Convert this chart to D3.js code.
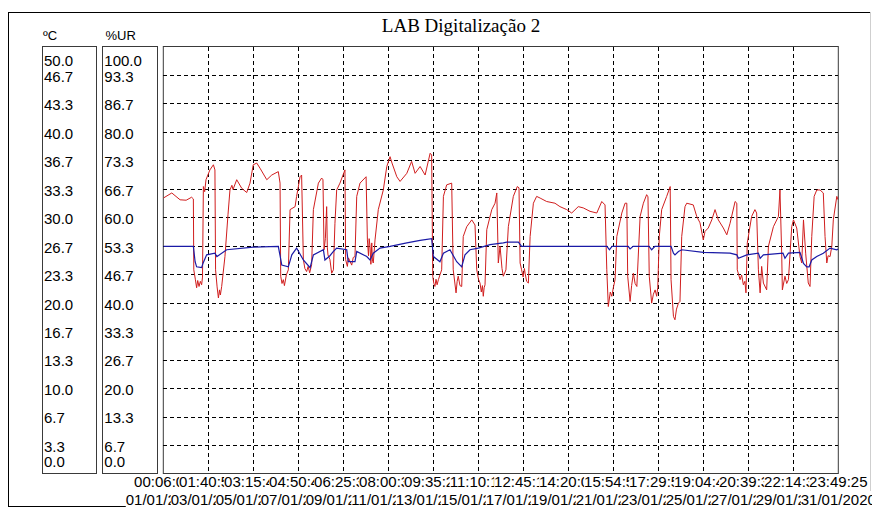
<!DOCTYPE html>
<html><head><meta charset="utf-8">
<script src="https://cdn.jsdelivr.net/npm/d3@7"></script>
<style>body{margin:0;background:#fff}svg{display:block}</style>
</head><body><svg id="c" width="872" height="509"></svg>
<script>
const title = "LAB Digitalização 2";
const tempUnit = "ºC";
const humUnit = "%UR";
const tempTickLabels = ["0.0","3.3","6.7","10.0","13.3","16.7","20.0","23.3","26.7","30.0","33.3","36.7","40.0","43.3","46.7","50.0"];
const humTickLabels = ["0.0","6.7","13.3","20.0","26.7","33.3","40.0","46.7","53.3","60.0","66.7","73.3","80.0","86.7","93.3","100.0"];
const timeLabels = ["00:06:02","01:40:56","03:15:49","04:50:43","06:25:36","08:00:30","09:35:23","11:10:17","12:45:10","14:20:04","15:54:57","17:29:51","19:04:44","20:39:38","22:14:31","23:49:25"];
const dateLabels = ["01/01/2020","03/01/2020","05/01/2020","07/01/2020","09/01/2020","11/01/2020","13/01/2020","15/01/2020","17/01/2020","19/01/2020","21/01/2020","23/01/2020","25/01/2020","27/01/2020","29/01/2020","31/01/2020"];
const spanDays = 30.9885; // time span in days
// relative humidity (%UR): [day offset, value]
const humidity = [[0,64.5],[0.39,65.7],[0.77,64.1],[1.05,64.0],[1.30,64.7],[1.38,64.3],[1.40,47.7],[1.47,45.5],[1.53,43.5],[1.58,45.2],[1.64,43.8],[1.70,45.0],[1.76,44.2],[1.80,46],[1.84,67.2],[1.90,66.0],[1.96,68.8],[2.14,71.1],[2.30,72.3],[2.37,71.1],[2.40,47.7],[2.47,43.7],[2.53,41.1],[2.58,43.0],[2.62,41.8],[2.68,43.8],[2.83,50.8],[2.97,60.6],[3.06,66.4],[3.15,67.5],[3.20,66.5],[3.37,68.8],[3.60,66.8],[3.83,65.8],[3.98,68.0],[4.13,72.3],[4.29,72.7],[4.44,71.5],[4.75,68.8],[4.98,69.9],[5.28,70.7],[5.36,68.0],[5.39,46.2],[5.45,44.5],[5.51,45.4],[5.56,44.0],[5.65,46.5],[5.74,47.7],[5.82,61.8],[6.05,62.5],[6.12,64.9],[6.28,69.5],[6.35,69.9],[6.43,50.1],[6.50,48.0],[6.58,47.3],[6.65,48.5],[6.72,47.0],[6.81,48.9],[6.89,61.8],[7.12,68.0],[7.27,69.2],[7.33,68.8],[7.38,52.4],[7.44,55],[7.50,62.5],[7.53,53],[7.56,51.2],[7.65,50.1],[7.73,46.9],[7.81,47.7],[7.88,58.6],[7.96,66.4],[8.11,68.0],[8.34,71.1],[8.37,50.1],[8.45,48.5],[8.50,50.5],[8.57,49.7],[8.65,48.8],[8.72,50.6],[8.80,50.8],[8.88,64.9],[9.03,68.0],[9.31,69.5],[9.37,54.7],[9.42,51],[9.45,55],[9.49,53.2],[9.53,49],[9.57,54],[9.60,50],[9.64,49.3],[9.72,54.7],[9.87,61.8],[10.10,66.4],[10.26,71.9],[10.41,74.2],[10.50,72.7],[10.72,69.5],[10.87,68.4],[11.18,70.3],[11.40,73.1],[11.56,70.3],[11.79,71.9],[12.02,69.9],[12.25,75.0],[12.32,74.6],[12.37,46.2],[12.42,44.5],[12.47,43.8],[12.52,45.5],[12.57,44.2],[12.63,45.4],[12.70,46.5],[12.78,47.7],[12.86,64.9],[13.01,67.6],[13.24,68.0],[13.31,47.7],[13.44,42.3],[13.49,45],[13.54,46.2],[13.62,44],[13.70,43.8],[13.77,55.5],[13.93,57.8],[14.16,59.4],[14.31,58.2],[14.39,47.7],[14.47,45.5],[14.54,44.6],[14.60,42.5],[14.65,44],[14.69,41.5],[14.73,43.5],[14.77,44.2],[14.85,57.1],[15.08,61.8],[15.23,63.3],[15.31,65.7],[15.38,49.3],[15.46,53.2],[15.55,48],[15.61,46.2],[15.73,47.7],[15.84,57.8],[16.07,64.9],[16.25,67.2],[16.33,66.9],[16.38,49.3],[16.45,47.7],[16.52,46.0],[16.58,48.0],[16.61,46.9],[16.68,45],[16.76,44.6],[16.84,55.5],[16.99,63.3],[17.14,64.9],[17.30,64.5],[17.60,63.7],[17.98,63.3],[18.21,62.5],[18.52,61.8],[18.75,61.0],[19.05,62.5],[19.28,62.2],[19.59,61.4],[19.90,61.0],[20.13,63.7],[20.28,62.9],[20.36,47.7],[20.43,39.1],[20.52,42.5],[20.59,41.5],[20.66,43.5],[20.74,45.4],[20.82,55.5],[21.05,61.0],[21.20,63.3],[21.28,63.3],[21.32,46.2],[21.43,40.3],[21.50,44],[21.58,46.9],[21.66,44.5],[21.74,43.8],[21.89,60.2],[22.04,63.3],[22.19,65.3],[22.25,64.8],[22.31,46.2],[22.42,39.9],[22.50,42],[22.58,43.0],[22.65,41.5],[22.70,43.5],[22.77,55.5],[22.88,61.8],[23.11,64.9],[23.27,67.2],[23.31,45.4],[23.42,36.8],[23.49,36.0],[23.56,38.5],[23.65,39.9],[23.72,40.3],[23.80,55.5],[23.95,62.5],[24.03,63.3],[24.33,62.9],[24.49,60.2],[24.64,58.7],[24.79,54.7],[24.87,56.7],[25.02,57.5],[25.18,59.4],[25.33,61.8],[25.48,59.4],[25.71,57.5],[25.87,55.9],[26.02,58.6],[26.25,63.7],[26.33,63.3],[26.35,47.7],[26.48,45.4],[26.55,46.5],[26.63,44.2],[26.70,45],[26.75,42.3],[26.81,54.0],[27.01,60.2],[27.16,61.8],[27.24,61.0],[27.32,47.7],[27.40,42.3],[27.47,48.5],[27.55,44.6],[27.70,43.0],[27.78,53.2],[28.01,57.8],[28.24,60.2],[28.31,66.4],[28.39,51.6],[28.42,43.0],[28.54,46.2],[28.62,44.5],[28.70,45.4],[28.85,57.8],[28.93,59.4],[29.08,57.5],[29.23,50.8],[29.31,49.3],[29.39,59.4],[29.49,51.6],[29.61,44.6],[29.69,43.8],[29.77,55.5],[29.88,64.9],[30.00,66.4],[30.15,66.4],[30.30,65.7],[30.38,55.5],[30.46,49.3],[30.52,51],[30.61,50.8],[30.69,53.2],[30.76,59.4],[30.92,64.9],[30.98,64.1]];
// temperature (°C): [day offset, value]
const temperature = [[0,26.6],[1.38,26.6],[1.46,24.8],[1.53,24.2],[1.76,24.1],[1.82,24.6],[1.99,25.6],[2.37,25.8],[2.46,25.4],[2.91,26.2],[4.13,26.5],[5.28,26.6],[5.44,24.4],[5.74,24.2],[5.90,25.6],[6.12,26.4],[6.43,25.0],[6.74,24.1],[6.89,25.6],[7.35,26.2],[7.42,25.0],[7.65,25.5],[7.81,26.0],[7.96,26.4],[8.42,26.2],[8.49,24.8],[8.80,24.8],[8.88,26.0],[9.34,25.4],[9.49,25.0],[9.64,25.8],[9.95,26.4],[10.41,26.6],[11.18,27.0],[11.79,27.3],[12.32,27.5],[12.40,25.4],[12.70,24.8],[12.86,25.8],[13.16,26.2],[13.47,24.8],[13.70,24.2],[13.85,25.6],[14.08,26.2],[14.46,26.4],[15.00,26.8],[15.61,27.0],[15.77,27.1],[16.30,27.1],[16.45,26.6],[20.37,26.6],[20.48,26.2],[20.60,26.6],[21.34,26.6],[21.43,26.3],[21.57,26.6],[22.30,26.6],[22.42,26.2],[22.57,26.6],[23.31,26.6],[23.42,25.8],[23.49,25.6],[23.65,26.0],[23.80,26.2],[24.79,25.9],[26.02,25.8],[26.33,25.6],[26.40,25.2],[26.79,25.6],[27.32,25.8],[27.40,25.2],[27.55,25.6],[28.45,25.8],[28.54,25.2],[28.70,25.8],[29.23,25.9],[29.39,24.6],[29.54,24.2],[29.65,24.2],[29.77,25.0],[30.00,25.4],[30.30,25.8],[30.61,26.4],[30.92,26.2],[30.98,26.3]];

const svg = d3.select("#c");
const L = 163.3, R = 838.3, T = 46.5, B = 473.5;
const nDiv = 15;
const x = d3.scaleLinear().domain([0, spanDays]).range([L, R]);
const gx = d3.scaleLinear().domain([0, nDiv]).range([L, R]);
const yT = d3.scaleLinear().domain([0, 50]).range([B, T]);
const yH = d3.scaleLinear().domain([0, 100]).range([B, T]);
const gy = d3.scaleLinear().domain([0, nDiv]).range([B, T]);
const font = "'Liberation Sans', Arial, sans-serif";

// outer frame
svg.append("line").attr("x1",8).attr("x2",870).attr("y1",12.5).attr("y2",12.5).attr("stroke","#000");
svg.append("line").attr("x1",8.5).attr("x2",8.5).attr("y1",12).attr("y2",507).attr("stroke","#000");
svg.append("line").attr("x1",8).attr("x2",871).attr("y1",506.5).attr("y2",506.5).attr("stroke","#000");
svg.append("line").attr("x1",870.5).attr("x2",870.5).attr("y1",12).attr("y2",507).attr("stroke","#cfcfcf");

// title
svg.append("text").attr("x",461).attr("y",31.5).attr("text-anchor","middle")
  .attr("font-family","'Liberation Serif','Times New Roman',serif").attr("font-size",19).text(title);

// unit headers
svg.append("text").attr("x",43).attr("y",39.5).attr("font-family",font).attr("font-size",13).text(tempUnit);
svg.append("text").attr("x",105.5).attr("y",39.5).attr("font-family",font).attr("font-size",13).text(humUnit);

// boxes
const boxes = [[42.5,96.5],[102.5,157.5],[L,R]];
boxes.forEach(b => svg.append("rect").attr("x",b[0]).attr("y",T).attr("width",b[1]-b[0]).attr("height",B-T)
  .attr("fill","none").attr("stroke","#3a3a3a").attr("stroke-width",1));

// grid
const grid = svg.append("g").attr("stroke","#000").attr("stroke-dasharray","4,3").attr("shape-rendering","crispEdges");
d3.range(1, nDiv).forEach(i => {
  grid.append("line").attr("x1",L).attr("x2",R).attr("y1",Math.round(gy(i))+0.5).attr("y2",Math.round(gy(i))+0.5);
  grid.append("line").attr("y1",T).attr("y2",B).attr("x1",Math.round(gx(i))+0.5).attr("x2",Math.round(gx(i))+0.5);
});

// y tick labels
function tickY(i){ if(i===nDiv) return T+19.5; if(i===0) return B-6.5; return gy(i)+6.8; }
tempTickLabels.forEach((t,i) => svg.append("text").attr("x",44).attr("y",tickY(i)).attr("font-family",font).attr("font-size",15).text(t));
humTickLabels.forEach((t,i) => svg.append("text").attr("x",104.3).attr("y",tickY(i)).attr("font-family",font).attr("font-size",15).text(t));

// x labels with opaque backgrounds, later ones overlapping earlier ones
function xLabels(labels, baseline, top, bottom){
  labels.forEach((t,i) => {
    const g = svg.append("g");
    const r = g.append("rect").attr("fill","#fff");
    const tx = g.append("text").attr("x",gx(i)).attr("y",baseline).attr("text-anchor","middle")
      .attr("font-family",font).attr("font-size",15).text(t);
    const w = tx.node().getComputedTextLength();
    r.attr("x",gx(i)-w/2).attr("y",top).attr("width",w).attr("height",bottom-top);
  });
}
xLabels(timeLabels, 487, 475, 490);
xLabels(dateLabels, 505, 491, 509);

// series
svg.append("clipPath").attr("id","pc").append("rect").attr("x",L).attr("y",T).attr("width",R-L).attr("height",B-T);
const lineH = d3.line().x(d => x(d[0])).y(d => yH(d[1]));
const lineT = d3.line().x(d => x(d[0])).y(d => yT(d[1]));
svg.append("path").datum(humidity).attr("d",lineH).attr("fill","none").attr("stroke","#d01e1e").attr("stroke-width",1).attr("clip-path","url(#pc)");
svg.append("path").datum(temperature).attr("d",lineT).attr("fill","none").attr("stroke","#1a1aa6").attr("stroke-width",1.2).attr("clip-path","url(#pc)");
</script></body></html>
